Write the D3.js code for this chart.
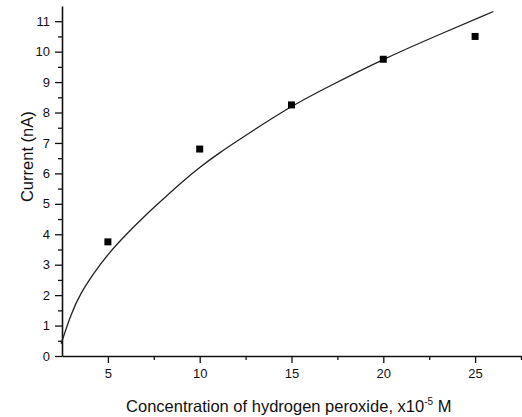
<!DOCTYPE html>
<html>
<head>
<meta charset="utf-8">
<script src="https://cdn.jsdelivr.net/npm/d3@7"></script>
<style>
  body { margin: 0; background: #fff; }
  text { font-family: "Liberation Sans", Arial, sans-serif; fill: #111; }
</style>
</head>
<body>
<div id="chart"></div>
<script>
// measured points (concentration x10^-5 M, current nA)
var concentration = [5, 10, 15, 20, 25];
var current = [3.75, 6.8, 8.25, 9.75, 10.5];

// fitted curve
var fitX = [2.45, 3, 3.5, 4.2, 5, 6, 7, 8, 9, 10, 11, 12.5, 15, 17, 20, 23, 26];
var fitY = [0.4, 1.4, 2.05, 2.7, 3.35, 4.0, 4.6, 5.15, 5.7, 6.2, 6.65, 7.25, 8.22, 8.85, 9.76, 10.55, 11.32];

var xTicks = [5, 10, 15, 20, 25];
var yTicks = [0, 1, 2, 3, 4, 5, 6, 7, 8, 9, 10, 11];

// set the dimensions and margins of the graph
var margin = {top: 6, right: 1, bottom: 61, left: 62},
    width = 522 - margin.left - margin.right,
    height = 417 - margin.top - margin.bottom;

var svg = d3.select('#chart')
  .append('svg')
    .attr('width', 522)
    .attr('height', 417)
  .append('g')
    .attr('transform', 'translate(' + margin.left + ',' + margin.top + ')');

var x = d3.scaleLinear().domain([2.5, 27.5]).range([0, width]);
var y = d3.scaleLinear().domain([0, 11.5]).range([height, 0]);

// minor ticks first
svg.append('g')
  .attr('transform', 'translate(0,' + height + ')')
  .call(d3.axisBottom(x).tickValues(d3.range(7.5, 27.6, 5)).tickSize(4).tickFormat(''))
  .call(function(g) { g.select('.domain').remove(); });
svg.append('g')
  .call(d3.axisLeft(y).tickValues(d3.range(0.5, 11.5, 1)).tickSize(4).tickFormat(''))
  .call(function(g) { g.select('.domain').remove(); });

// X axis
svg.append('g')
  .attr('class', 'xaxis')
  .attr('transform', 'translate(0,' + height + ')')
  .call(d3.axisBottom(x).tickValues(xTicks).tickSize(7).tickSizeOuter(0).tickPadding(6))
  .selectAll('text')
    .style('font-size', '13px');

// Y axis
svg.append('g')
  .attr('class', 'yaxis')
  .call(d3.axisLeft(y).tickValues(yTicks).tickSize(7).tickSizeOuter(0).tickPadding(5))
  .selectAll('text')
    .style('font-size', '13px');

svg.selectAll('.domain').attr('stroke-width', 1.6).attr('stroke', '#111');
svg.selectAll('.tick line').attr('stroke-width', 1.3).attr('stroke', '#111');

// fit curve
var fit = fitX.map(function(d, i) { return [d, fitY[i]]; });
svg.append('path')
  .datum(fit)
  .attr('fill', 'none')
  .attr('stroke', '#222')
  .attr('stroke-width', 1.3)
  .attr('d', d3.line()
    .x(function(d) { return x(d[0]); })
    .y(function(d) { return y(d[1]); })
    .curve(d3.curveBasis));

// data squares
var sq = 7;
svg.selectAll('.pt')
  .data(concentration)
  .enter()
  .append('rect')
    .attr('class', 'pt')
    .attr('x', function(d) { return x(d) - sq / 2; })
    .attr('y', function(d, i) { return y(current[i]) - sq / 2; })
    .attr('width', sq)
    .attr('height', sq)
    .attr('fill', '#000');

// X axis label
var xl = svg.append('text')
  .attr('x', x(14.85))
  .attr('y', height + 56)
  .attr('text-anchor', 'middle')
  .style('font-size', '16.5px');
xl.append('tspan').text('Concentration of hydrogen peroxide, x10');
xl.append('tspan').attr('dy', -7).style('font-size', '10px').text('-5');
xl.append('tspan').attr('dy', 7).text(' M');

// Y axis label
svg.append('text')
  .attr('transform', 'translate(' + (-29) + ',' + y(6.55) + ')rotate(-90)')
  .attr('text-anchor', 'middle')
  .style('font-size', '16.5px')
  .text('Current (nA)');
</script>
</body>
</html>
